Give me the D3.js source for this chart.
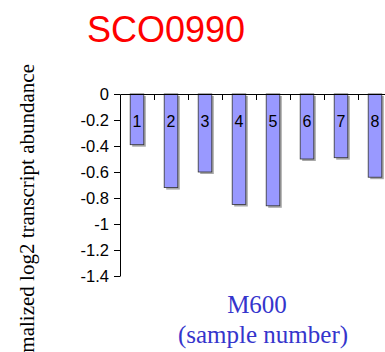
<!DOCTYPE html>
<html>
<head>
<meta charset="utf-8">
<script src="https://cdn.jsdelivr.net/npm/d3@7"></script>
<style>
  body { margin: 0; background: #fff; }
  svg { display: block; }
</style>
</head>
<body>
<div id="chart"></div>
<script>
// ----- dati
var samples = ['1', '2', '3', '4', '5', '6', '7', '8'];
var values = [-0.39, -0.72, -0.60, -0.85, -0.86, -0.50, -0.49, -0.64];
var yTicks = [0, -0.2, -0.4, -0.6, -0.8, -1, -1.2, -1.4];

var w = 385;
var h = 352;

var svg = d3.select('#chart').append('svg')
    .attr('width', w)
    .attr('height', h);

// ----- scale
var x = d3.scaleBand()
    .domain(samples)
    .range([120, 392])
    .paddingInner(0.6)
    .paddingOuter(0.3);

var xEdge = d3.scaleLinear().domain([0, samples.length]).range([120, 392]);

var y = d3.scaleLinear().domain([0, -1.4]).range([94, 276]);

// ----- titolo
svg.append('text')
    .attr('x', 166)
    .attr('y', 42)
    .attr('text-anchor', 'middle')
    .style('font-family', 'Arial, "Liberation Sans", sans-serif')
    .style('font-size', '36px')
    .attr('fill', '#ff0000')
    .text('SCO0990');

// ----- barre (con ombra)
var bars = svg.append('g').attr('class', 'bars');

bars.selectAll('rect.shadow').data(values)
    .enter().append('rect')
    .attr('class', 'shadow')
    .attr('x', function (d, i) { return x(samples[i]) + 2; })
    .attr('y', y(0) + 2)
    .attr('width', x.bandwidth())
    .attr('height', function (d) { return y(d) - y(0); })
    .attr('fill', '#a8a8a8');

bars.selectAll('rect.bar').data(values)
    .enter().append('rect')
    .attr('class', 'bar')
    .attr('x', function (d, i) { return x(samples[i]); })
    .attr('y', y(0))
    .attr('width', x.bandwidth())
    .attr('height', function (d) { return y(d) - y(0); })
    .attr('fill', '#9999ff')
    .attr('stroke', '#333')
    .attr('stroke-width', 0.8);

bars.selectAll('text.num').data(samples)
    .enter().append('text')
    .attr('class', 'num')
    .attr('x', function (d) { return x(d) + x.bandwidth() / 2; })
    .attr('y', 127)
    .attr('text-anchor', 'middle')
    .style('font-family', 'Arial, "Liberation Sans", sans-serif')
    .style('font-size', '16px')
    .attr('fill', '#000')
    .text(function (d) { return d; });

// ----- asse x (in alto, tacche verso il basso)
var xAxis = svg.append('g')
    .attr('transform', 'translate(0,' + y(0) + ')')
    .call(d3.axisBottom(xEdge).tickValues(d3.range(1, samples.length)).tickSize(6).tickSizeOuter(0).tickFormat(''));
xAxis.select('.domain').attr('stroke', '#000');

// ----- asse y
var yAxis = svg.append('g')
    .attr('transform', 'translate(120,0)')
    .call(d3.axisLeft(y).tickValues(yTicks).tickSize(6).tickSizeOuter(0).tickPadding(5)
        .tickFormat(function (d) { return d3.format('')(d).replace('−', '-'); }));
yAxis.selectAll('text')
    .style('font-family', 'Arial, "Liberation Sans", sans-serif')
    .style('font-size', '16.5px')
    .attr('fill', '#000');

// ----- etichette assi (quella verticale e' tagliata in basso come nell'originale)
svg.append('text')
    .attr('transform', 'translate(34,64) rotate(-90)')
    .attr('text-anchor', 'end')
    .style('font-family', '"Times New Roman", "Liberation Serif", serif')
    .style('font-size', '21px')
    .attr('fill', '#000')
    .text('normalized log2 transcript abundance');

svg.append('text')
    .attr('x', 257)
    .attr('y', 313)
    .attr('text-anchor', 'middle')
    .style('font-family', '"Times New Roman", "Liberation Serif", serif')
    .style('font-size', '25px')
    .attr('fill', '#3535cc')
    .text('M600');

svg.append('text')
    .attr('x', 263)
    .attr('y', 343)
    .attr('text-anchor', 'middle')
    .style('font-family', '"Times New Roman", "Liberation Serif", serif')
    .style('font-size', '25px')
    .attr('fill', '#3535cc')
    .text('(sample number)');
</script>
</body>
</html>
